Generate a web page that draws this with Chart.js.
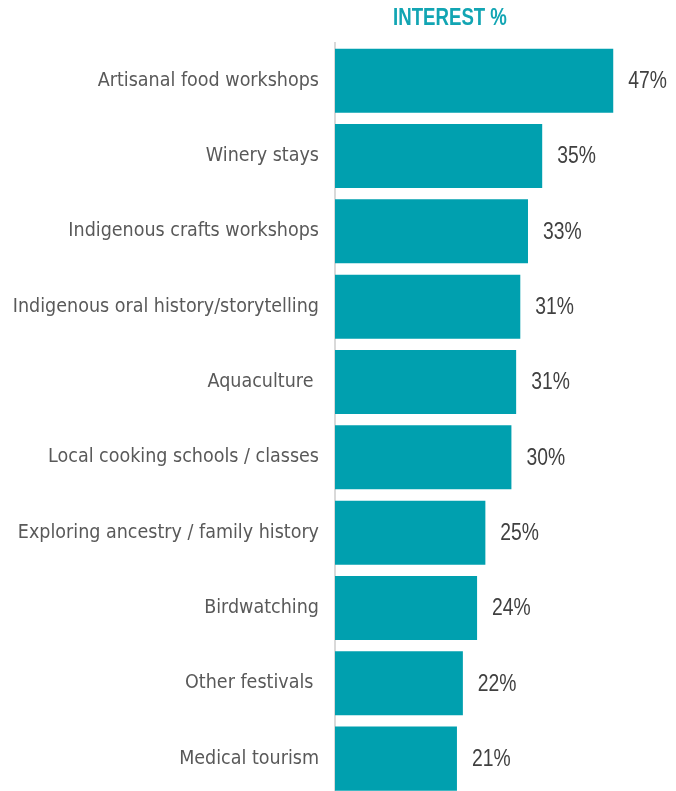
<!DOCTYPE html>
<html>
<head>
<meta charset="utf-8">
<script src="https://cdn.jsdelivr.net/npm/chart.js@4/dist/chart.umd.min.js"></script>
<style>
  html, body { margin: 0; padding: 0; background: #ffffff; overflow: hidden; }
  #wrap { width: 676px; height: 824px; }
</style>
</head>
<body>
<div id="wrap"><canvas id="c" width="676" height="824"></canvas></div>
<script>
const chartTitle = 'INTEREST %';
const categories = [
  'Artisanal food workshops',
  'Winery stays',
  'Indigenous crafts workshops',
  'Indigenous oral history/storytelling',
  'Aquaculture ',
  'Local cooking schools / classes',
  'Exploring ancestry / family history',
  'Birdwatching',
  'Other festivals ',
  'Medical tourism'
];
const interest = [47.0, 35.0, 32.6, 31.3, 30.6, 29.8, 25.4, 24.0, 21.6, 20.6];
const valueLabels = ['47%', '35%', '33%', '31%', '31%', '30%', '25%', '24%', '22%', '21%'];

const BAR_COLOR = '#00A0AF';
const TITLE_COLOR = '#12A5B3';

// draws horizontally condensed text (the reference uses a narrow face)
function narrowText(ctx, text, x, y, squeeze) {
  ctx.save();
  ctx.translate(x, y);
  ctx.scale(squeeze, 1);
  ctx.fillText(text, 0, 0);
  ctx.restore();
}

const valueLabelPlugin = {
  id: 'valueLabels',
  afterDatasetsDraw(chart) {
    const ctx = chart.ctx;
    const meta = chart.getDatasetMeta(0);
    ctx.save();
    ctx.font = '23px "Liberation Sans", Arial, sans-serif';
    ctx.fillStyle = '#404040';
    ctx.textAlign = 'left';
    ctx.textBaseline = 'middle';
    meta.data.forEach((el, i) => {
      narrowText(ctx, valueLabels[i], el.x + 15, el.y + 1, 0.84);
    });
    ctx.restore();
  }
};

const titlePlugin = {
  id: 'topTitle',
  afterDraw(chart) {
    const ctx = chart.ctx;
    ctx.save();
    ctx.font = 'bold 23px "Liberation Sans", Arial, sans-serif';
    ctx.fillStyle = TITLE_COLOR;
    ctx.textAlign = 'center';
    ctx.textBaseline = 'alphabetic';
    narrowText(ctx, chartTitle, 450, 25, 0.81);
    ctx.restore();
  }
};

new Chart(document.getElementById('c'), {
  type: 'bar',
  data: {
    labels: categories,
    datasets: [{
      data: interest,
      backgroundColor: BAR_COLOR,
      borderWidth: 0,
      barPercentage: 0.85,
      categoryPercentage: 1.0
    }]
  },
  options: {
    indexAxis: 'y',
    responsive: false,
    animation: false,
    layout: { padding: { top: 43, bottom: 0, left: 0, right: 45 } },
    plugins: {
      legend: { display: false },
      tooltip: { enabled: false },
      title: { display: false }
    },
    scales: {
      x: {
        display: false,
        min: 0,
        max: 50
      },
      y: {
        afterFit(scale) { scale.width = 335; },
        grid: { display: false, drawTicks: false, tickLength: 0 },
        border: { display: true, color: '#d9d9d9', width: 2 },
        ticks: {
          color: '#595959',
          padding: 16,
          font: { family: '"DejaVu Sans Condensed", "DejaVu Sans", sans-serif', size: 19.5 }
        }
      }
    }
  },
  plugins: [valueLabelPlugin, titlePlugin]
});
</script>
</body>
</html>
